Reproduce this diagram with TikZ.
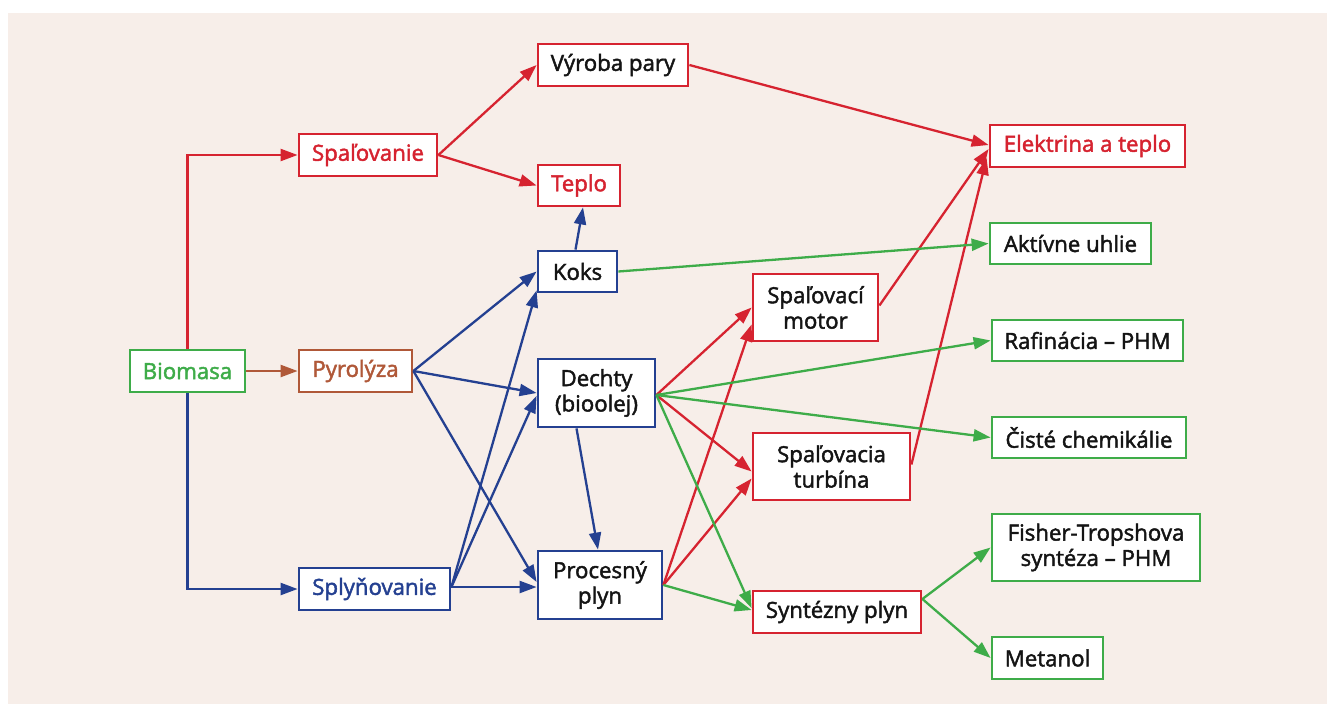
\documentclass[tikz,border=0pt]{standalone}
\usepackage{fontspec}
\setmainfont{Open Sans}[UprightFeatures={FakeBold=2}]
\usetikzlibrary{arrows.meta,calc}
\definecolor{cred}{HTML}{D62330}
\definecolor{cblue}{HTML}{244091}
\definecolor{cgreen}{HTML}{3EAC49}
\definecolor{cbrown}{HTML}{B05838}
\definecolor{cbg}{HTML}{F7EEE9}
\definecolor{ctext}{HTML}{141414}
\begin{document}
\begin{tikzpicture}[x=1bp,y=-1bp,
  box/.style={draw, line width=2.8bp, fill=white, inner sep=0pt, align=center,
    font=\fontsize{22.3}{25.5}\selectfont, text=ctext},
  sz/.style 2 args={minimum width=#1bp, minimum height=#2bp},
  conn/.style={line width=2.3bp, -{Triangle[length=17bp,width=12bp]}},
  redc/.style={conn, draw=cred},
  bluec/.style={conn, draw=cblue},
  greenc/.style={conn, draw=cgreen},
  brownc/.style={conn, draw=cbrown}]
\useasboundingbox (0,0) rectangle (1327,704);
\fill[cbg] (8,13) rectangle (1327,704);

% process boxes
\node[box, draw=cgreen, text=cgreen, sz={115}{42}] (bio) at (187.5,371) {Biomasa};
\node[box, draw=cbrown, text=cbrown, sz={113}{42}] (pyro) at (355.5,371) {Pyrolýza};
\node[box, draw=cred, text=cred, sz={138}{42}] (spal) at (368,155) {Spaľovanie};
\node[box, draw=cblue, text=cblue, sz={151}{42}] (splyn) at (374.5,589) {Splyňovanie};

% intermediate products
\node[box, draw=cred, sz={150}{42}] (vyroba) at (613,65) {Výroba pary};
\node[box, draw=cred, text=cred, sz={82}{41}] (teplo) at (579,185.5) {Teplo};
\node[box, draw=cblue, sz={79}{41}] (koks) at (577.5,271.5) {Koks};
\node[box, draw=cblue, sz={117}{68}] (dechty) at (596.5,393) {Dechty\\(bioolej)};
\node[box, draw=cblue, sz={124}{68}] (proc) at (600,585) {Procesný\\plyn};

% conversion units
\node[box, draw=cred, sz={125}{67}] (motor) at (815.5,307.5) {Spaľovací\\motor};
\node[box, draw=cred, sz={157}{67}] (turb) at (831.5,466.5) {Spaľovacia\\turbína};
\node[box, draw=cred, sz={168}{42}] (synt) at (837,612) {Syntézny plyn};

% final products
\node[box, draw=cred, text=cred, sz={195}{42}] (elek) at (1087.5,146) {Elektrina a teplo};
\node[box, draw=cgreen, sz={161}{41}] (akt) at (1070.5,243.5) {Aktívne uhlie};
\node[box, draw=cgreen, sz={191}{41}] (raf) at (1087.5,340.5) {Rafinácia – PHM};
\node[box, draw=cgreen, sz={194}{41}] (cist) at (1089,437.5) {Čisté chemikálie};
\node[box, draw=cgreen, sz={208}{67}] (fish) at (1096,547.5) {Fisher-Tropshova\\syntéza – PHM};
\node[box, draw=cgreen, sz={111}{42}] (meta) at (1047.5,658) {Metanol};

% combustion branch
\draw[redc] (bio.north) |- (spal.west);
\draw[redc] (spal.east) -- (vyroba.west);
\draw[redc] (spal.east) -- (teplo.west);
\draw[redc] (vyroba.east) -- ($(elek.west)+(0,-1)$);
\draw[redc] ($(motor.east)+(0,-2)$) -- ($(elek.west)+(0,3)$);
\draw[redc] ($(turb.east)+(0,-2)$) -- ($(elek.west)+(-2,12)$);
\draw[redc] ($(dechty.east)+(0,2)$) -- (motor.west);
\draw[redc] ($(dechty.east)+(0,2)$) -- ($(turb.west)+(0,5)$);
\draw[redc] (proc.east) -- ($(motor.west)+(0,17)$);
\draw[redc] (proc.east) -- ($(turb.west)+(0,12)$);

% pyrolysis and gasification
\draw[brownc] (bio.east) -- (pyro.west);
\draw[bluec] (bio.south) |- (splyn.west);
\draw[bluec] (pyro.east) -- (koks.west);
\draw[bluec] (pyro.east) -- (dechty.west);
\draw[bluec] (pyro.east) -- ($(proc.west)+(0,-3)$);
\draw[bluec] ($(splyn.east)+(0,-2)$) -- ($(koks.south west)+(0,-3)$);
\draw[bluec] ($(splyn.east)+(0,-2)$) -- ($(dechty.west)+(0,3)$);
\draw[bluec] ($(splyn.east)+(0,-2)$) -- ($(splyn.east -| proc.west)+(0,-2)$);
\draw[bluec] ($(koks.north)+(-2,0)$) -- ($(teplo.south)+(4,0)$);
\draw[bluec] ($(dechty.south)+(-20,0)$) -- ($(proc.north)+(-2,0)$);

% chemical products
\draw[greenc] (koks.east) -- (akt.west);
\draw[greenc] ($(dechty.east)+(0,2)$) -- (raf.west);
\draw[greenc] ($(dechty.east)+(0,2)$) -- (cist.west);
\draw[greenc] ($(dechty.east)+(0,2)$) -- ($(synt.west)+(0,-4)$);
\draw[greenc] (proc.east) -- ($(synt.west)+(0,-2)$);
\draw[greenc] ($(synt.east)+(0,-13)$) -- (fish.west);
\draw[greenc] ($(synt.east)+(0,-13)$) -- (meta.west);
\end{tikzpicture}
\end{document}
